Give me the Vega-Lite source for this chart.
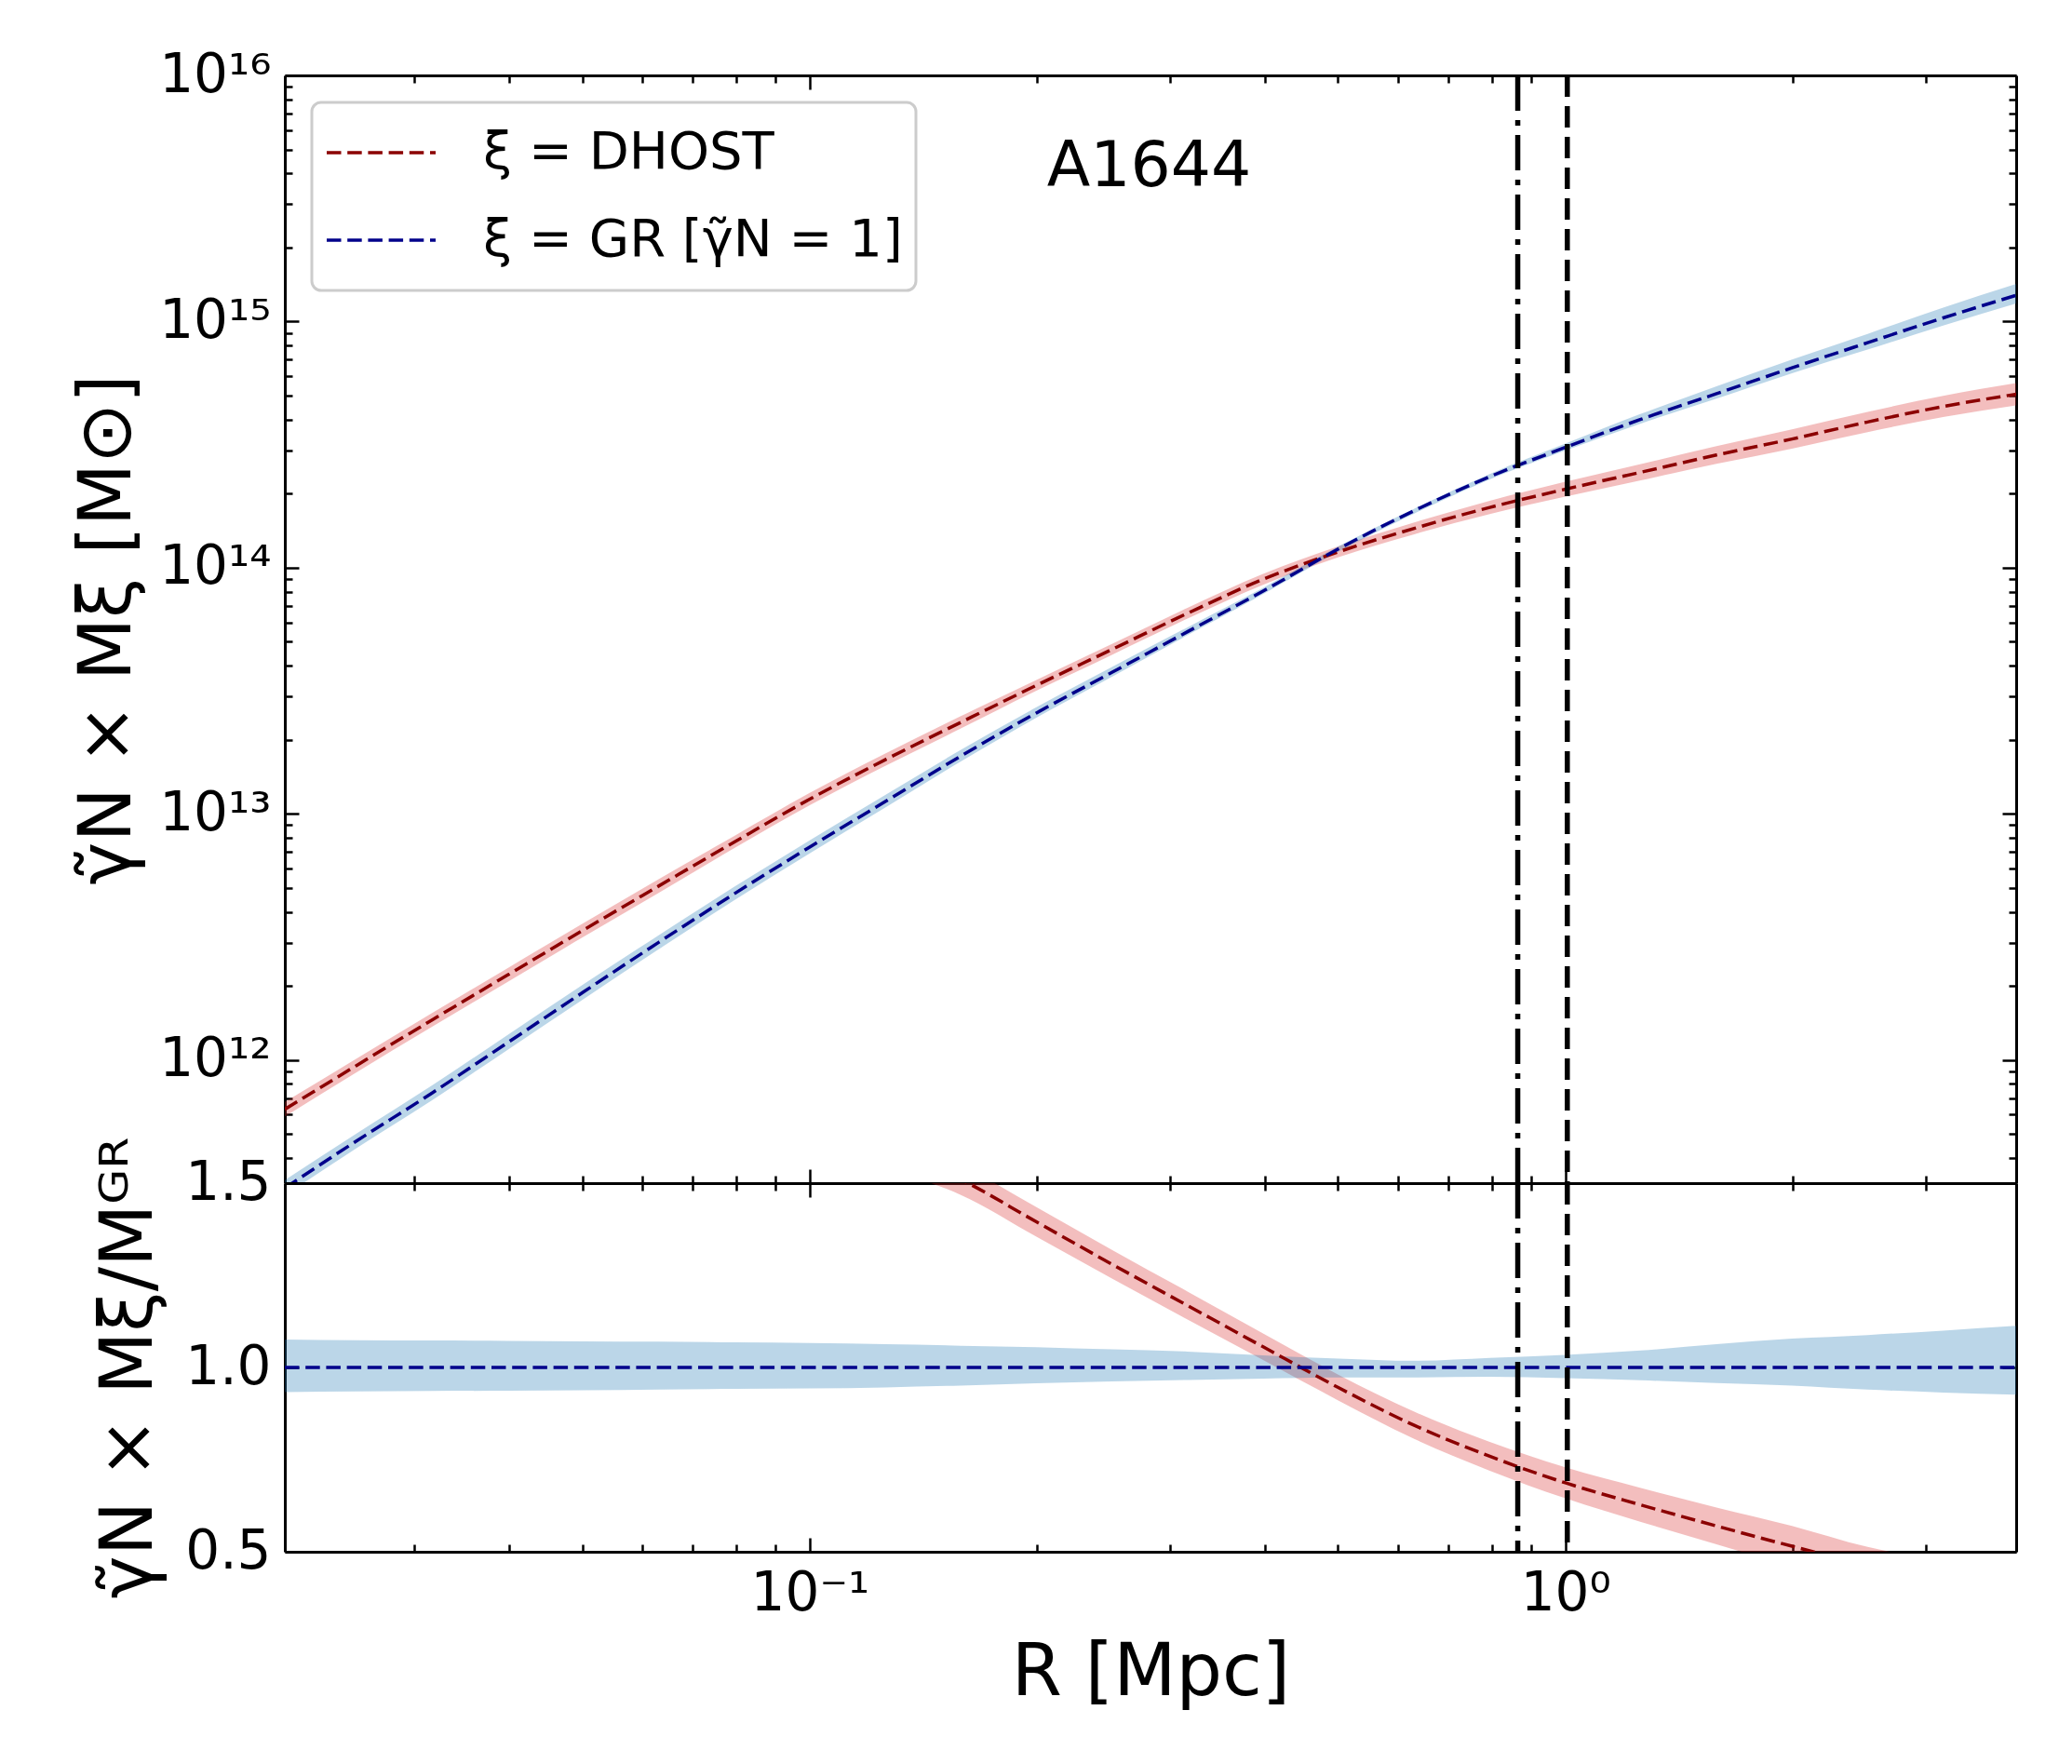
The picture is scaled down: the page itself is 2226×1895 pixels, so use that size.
{
  "$schema": "https://vega.github.io/schema/vega-lite/v6.json",
  "background": "white",
  "padding": {"left": 77, "top": 52, "right": 40, "bottom": 40},
  "config": {
    "font": "DejaVu Sans",
    "view": {"stroke": null},
    "axis": {
      "grid": false,
      "domainColor": "black",
      "domainWidth": 3,
      "tickColor": "black",
      "tickWidth": 2.5,
      "labelFont": "DejaVu Sans",
      "labelFontSize": 58,
      "labelColor": "black",
      "labelOverlap": false,
      "labelFlush": false,
      "labelBound": false,
      "titleFont": "DejaVu Sans",
      "titleFontSize": 78,
      "titleFontWeight": "normal",
      "titleColor": "black"
    },
    "legend": {"strokeWidth": 3}
  },
  "datasets": {
    "profiles": [
      {"model": "ξ = DHOST", "R": 0.0202, "M": 6.31e11, "M_lo": 5.89e11, "M_hi": 6.76e11, "ratio": 2.09, "ratio_lo": 1.99, "ratio_hi": 2.19},
      {"model": "ξ = DHOST", "R": 0.0251, "M": 9.48e11, "M_lo": 8.89e11, "M_hi": 1.012e12, "ratio": 2.05, "ratio_lo": 1.95, "ratio_hi": 2.15},
      {"model": "ξ = DHOST", "R": 0.0316, "M": 1.452e12, "M_lo": 1.361e12, "M_hi": 1.549e12, "ratio": 2.0, "ratio_lo": 1.9, "ratio_hi": 2.1},
      {"model": "ξ = DHOST", "R": 0.0398, "M": 2.213e12, "M_lo": 2.075e12, "M_hi": 2.36e12, "ratio": 1.94, "ratio_lo": 1.84, "ratio_hi": 2.04},
      {"model": "ξ = DHOST", "R": 0.0501, "M": 3.365e12, "M_lo": 3.155e12, "M_hi": 3.59e12, "ratio": 1.88, "ratio_lo": 1.79, "ratio_hi": 1.97},
      {"model": "ξ = DHOST", "R": 0.0631, "M": 5.09e12, "M_lo": 4.775e12, "M_hi": 5.43e12, "ratio": 1.82, "ratio_lo": 1.73, "ratio_hi": 1.91},
      {"model": "ξ = DHOST", "R": 0.0794, "M": 7.674e12, "M_lo": 7.244e12, "M_hi": 8.128e12, "ratio": 1.75, "ratio_lo": 1.67, "ratio_hi": 1.84},
      {"model": "ξ = DHOST", "R": 0.1, "M": 1.148e13, "M_lo": 1.084e13, "M_hi": 1.216e13, "ratio": 1.68, "ratio_lo": 1.6, "ratio_hi": 1.76},
      {"model": "ξ = DHOST", "R": 0.1259, "M": 1.66e13, "M_lo": 1.567e13, "M_hi": 1.758e13, "ratio": 1.6, "ratio_lo": 1.54, "ratio_hi": 1.66},
      {"model": "ξ = DHOST", "R": 0.1585, "M": 2.355e13, "M_lo": 2.223e13, "M_hi": 2.495e13, "ratio": 1.51, "ratio_lo": 1.468, "ratio_hi": 1.552},
      {"model": "ξ = DHOST", "R": 0.1995, "M": 3.327e13, "M_lo": 3.162e13, "M_hi": 3.5e13, "ratio": 1.395, "ratio_lo": 1.355, "ratio_hi": 1.435},
      {"model": "ξ = DHOST", "R": 0.2512, "M": 4.656e13, "M_lo": 4.426e13, "M_hi": 4.898e13, "ratio": 1.28, "ratio_lo": 1.241, "ratio_hi": 1.319},
      {"model": "ξ = DHOST", "R": 0.3162, "M": 6.53e13, "M_lo": 6.209e13, "M_hi": 6.871e13, "ratio": 1.168, "ratio_lo": 1.13, "ratio_hi": 1.206},
      {"model": "ξ = DHOST", "R": 0.3981, "M": 8.974e13, "M_lo": 8.531e13, "M_hi": 9.44e13, "ratio": 1.056, "ratio_lo": 1.02, "ratio_hi": 1.092},
      {"model": "ξ = DHOST", "R": 0.5012, "M": 1.161e14, "M_lo": 1.104e14, "M_hi": 1.222e14, "ratio": 0.945, "ratio_lo": 0.91, "ratio_hi": 0.98},
      {"model": "ξ = DHOST", "R": 0.631, "M": 1.445e14, "M_lo": 1.368e14, "M_hi": 1.528e14, "ratio": 0.843, "ratio_lo": 0.806, "ratio_hi": 0.88},
      {"model": "ξ = DHOST", "R": 0.7943, "M": 1.758e14, "M_lo": 1.652e14, "M_hi": 1.871e14, "ratio": 0.759, "ratio_lo": 0.72, "ratio_hi": 0.798},
      {"model": "ξ = DHOST", "R": 1.0, "M": 2.084e14, "M_lo": 1.945e14, "M_hi": 2.234e14, "ratio": 0.687, "ratio_lo": 0.645, "ratio_hi": 0.729},
      {"model": "ξ = DHOST", "R": 1.259, "M": 2.443e14, "M_lo": 2.265e14, "M_hi": 2.636e14, "ratio": 0.627, "ratio_lo": 0.581, "ratio_hi": 0.673},
      {"model": "ξ = DHOST", "R": 1.585, "M": 2.871e14, "M_lo": 2.642e14, "M_hi": 3.119e14, "ratio": 0.57, "ratio_lo": 0.52, "ratio_hi": 0.62},
      {"model": "ξ = DHOST", "R": 1.995, "M": 3.334e14, "M_lo": 3.048e14, "M_hi": 3.648e14, "ratio": 0.515, "ratio_lo": 0.46, "ratio_hi": 0.57},
      {"model": "ξ = DHOST", "R": 2.512, "M": 3.908e14, "M_lo": 3.556e14, "M_hi": 4.295e14, "ratio": 0.463, "ratio_lo": 0.403, "ratio_hi": 0.513},
      {"model": "ξ = DHOST", "R": 3.162, "M": 4.519e14, "M_lo": 4.093e14, "M_hi": 4.989e14, "ratio": 0.415, "ratio_lo": 0.35, "ratio_hi": 0.475},
      {"model": "ξ = DHOST", "R": 3.954, "M": 5.07e14, "M_lo": 4.571e14, "M_hi": 5.623e14, "ratio": 0.372, "ratio_lo": 0.302, "ratio_hi": 0.438},
      {"model": "ξ = GR [γ̃N = 1]", "R": 0.0202, "M": 3.02e11, "M_lo": 2.818e11, "M_hi": 3.251e11, "ratio": 1, "ratio_lo": 0.933, "ratio_hi": 1.076},
      {"model": "ξ = GR [γ̃N = 1]", "R": 0.0251, "M": 4.68e11, "M_lo": 4.375e11, "M_hi": 5.02e11, "ratio": 1, "ratio_lo": 0.935, "ratio_hi": 1.074},
      {"model": "ξ = GR [γ̃N = 1]", "R": 0.0316, "M": 7.33e11, "M_lo": 6.855e11, "M_hi": 7.87e11, "ratio": 1, "ratio_lo": 0.936, "ratio_hi": 1.073},
      {"model": "ξ = GR [γ̃N = 1]", "R": 0.0398, "M": 1.175e12, "M_lo": 1.099e12, "M_hi": 1.262e12, "ratio": 1, "ratio_lo": 0.937, "ratio_hi": 1.072},
      {"model": "ξ = GR [γ̃N = 1]", "R": 0.0501, "M": 1.884e12, "M_lo": 1.762e12, "M_hi": 2.023e12, "ratio": 1, "ratio_lo": 0.938, "ratio_hi": 1.071},
      {"model": "ξ = GR [γ̃N = 1]", "R": 0.0631, "M": 3.006e12, "M_lo": 2.818e12, "M_hi": 3.214e12, "ratio": 1, "ratio_lo": 0.94, "ratio_hi": 1.07},
      {"model": "ξ = GR [γ̃N = 1]", "R": 0.0794, "M": 4.73e12, "M_lo": 4.457e12, "M_hi": 5.047e12, "ratio": 1, "ratio_lo": 0.942, "ratio_hi": 1.068},
      {"model": "ξ = GR [γ̃N = 1]", "R": 0.1, "M": 7.33e12, "M_lo": 6.918e12, "M_hi": 7.816e12, "ratio": 1, "ratio_lo": 0.943, "ratio_hi": 1.066},
      {"model": "ξ = GR [γ̃N = 1]", "R": 0.1259, "M": 1.122e13, "M_lo": 1.062e13, "M_hi": 1.194e13, "ratio": 1, "ratio_lo": 0.946, "ratio_hi": 1.063},
      {"model": "ξ = GR [γ̃N = 1]", "R": 0.1585, "M": 1.718e13, "M_lo": 1.633e13, "M_hi": 1.82e13, "ratio": 1, "ratio_lo": 0.951, "ratio_hi": 1.059},
      {"model": "ξ = GR [γ̃N = 1]", "R": 0.1995, "M": 2.57e13, "M_lo": 2.46e13, "M_hi": 2.71e13, "ratio": 1, "ratio_lo": 0.957, "ratio_hi": 1.055},
      {"model": "ξ = GR [γ̃N = 1]", "R": 0.2512, "M": 3.758e13, "M_lo": 3.606e13, "M_hi": 3.954e13, "ratio": 1, "ratio_lo": 0.962, "ratio_hi": 1.049},
      {"model": "ξ = GR [γ̃N = 1]", "R": 0.3162, "M": 5.495e13, "M_lo": 5.321e13, "M_hi": 5.728e13, "ratio": 1, "ratio_lo": 0.966, "ratio_hi": 1.043},
      {"model": "ξ = GR [γ̃N = 1]", "R": 0.3981, "M": 8.035e13, "M_lo": 7.816e13, "M_hi": 8.279e13, "ratio": 1, "ratio_lo": 0.97, "ratio_hi": 1.033},
      {"model": "ξ = GR [γ̃N = 1]", "R": 0.5012, "M": 1.194e14, "M_lo": 1.164e14, "M_hi": 1.222e14, "ratio": 1, "ratio_lo": 0.973, "ratio_hi": 1.024},
      {"model": "ξ = GR [γ̃N = 1]", "R": 0.631, "M": 1.706e14, "M_lo": 1.66e14, "M_hi": 1.738e14, "ratio": 1, "ratio_lo": 0.973, "ratio_hi": 1.018},
      {"model": "ξ = GR [γ̃N = 1]", "R": 0.7943, "M": 2.344e14, "M_lo": 2.286e14, "M_hi": 2.404e14, "ratio": 1, "ratio_lo": 0.975, "ratio_hi": 1.026},
      {"model": "ξ = GR [γ̃N = 1]", "R": 1.0, "M": 3.083e14, "M_lo": 2.992e14, "M_hi": 3.192e14, "ratio": 1, "ratio_lo": 0.971, "ratio_hi": 1.034},
      {"model": "ξ = GR [γ̃N = 1]", "R": 1.259, "M": 4.009e14, "M_lo": 3.855e14, "M_hi": 4.217e14, "ratio": 1, "ratio_lo": 0.965, "ratio_hi": 1.046},
      {"model": "ξ = GR [γ̃N = 1]", "R": 1.585, "M": 5.093e14, "M_lo": 4.864e14, "M_hi": 5.458e14, "ratio": 1, "ratio_lo": 0.958, "ratio_hi": 1.063},
      {"model": "ξ = GR [γ̃N = 1]", "R": 1.995, "M": 6.486e14, "M_lo": 6.166e14, "M_hi": 7.015e14, "ratio": 1, "ratio_lo": 0.951, "ratio_hi": 1.078},
      {"model": "ξ = GR [γ̃N = 1]", "R": 2.512, "M": 8.204e14, "M_lo": 7.691e14, "M_hi": 8.913e14, "ratio": 1, "ratio_lo": 0.94, "ratio_hi": 1.088},
      {"model": "ξ = GR [γ̃N = 1]", "R": 3.162, "M": 1.035e15, "M_lo": 9.638e14, "M_hi": 1.14e15, "ratio": 1, "ratio_lo": 0.932, "ratio_hi": 1.1},
      {"model": "ξ = GR [γ̃N = 1]", "R": 3.954, "M": 1.279e15, "M_lo": 1.186e15, "M_hi": 1.422e15, "ratio": 1, "ratio_lo": 0.926, "ratio_hi": 1.113}
    ],
    "radii": [
      {"name": "r_dashdot", "R": 0.865},
      {"name": "r_dashed", "R": 1.006}
    ],
    "annotations": [
      {"label": "A1644", "R": 0.2813, "M": 3.56e15}
    ]
  },
  "spacing": 0,
  "bounds": "flush",
  "resolve": {"scale": {"color": "independent"}, "legend": {"color": "independent"}},
  "vconcat": [
    {
      "width": 1860,
      "height": 1190,
      "data": {"name": "profiles"},
      "resolve": {"axis": {"x": "independent", "y": "independent"}},
      "layer": [
        {
          "transform": [{"filter": "datum.model === 'ξ = DHOST'"}],
          "mark": {"type": "area", "color": "#d62728", "opacity": 0.3, "clip": true, "interpolate": "monotone"},
          "encoding": {
            "x": {"field": "R", "type": "quantitative", "scale": {"type": "log", "domain": [0.0202, 3.95], "nice": false},
              "axis": {"orient": "bottom", "values": [0.1, 1], "tickSize": -15, "labels": false, "title": null}},
            "y": {"field": "M_lo", "type": "quantitative", "scale": {"type": "log", "domain": [3.162e11, 1e16], "nice": false},
              "axis": {"orient": "left", "values": [1e12, 1e13, 1e14, 1e15, 1e16], "tickSize": -15, "labelPadding": 30,
                "labelExpr": "datum.value == 1e12 ? '10¹²' : datum.value == 1e13 ? '10¹³' : datum.value == 1e14 ? '10¹⁴' : datum.value == 1e15 ? '10¹⁵' : '10¹⁶'",
                "title": "γ̃N × Mξ [M⊙]", "titleAngle": 270, "titleBaseline": "alphabetic", "titleAlign": "center", "titleX": -167, "titleY": 595}},
            "y2": {"field": "M_hi"}
          }
        },
        {
          "transform": [{"filter": "datum.model !== 'ξ = DHOST'"}],
          "mark": {"type": "area", "color": "#1f77b4", "opacity": 0.3, "clip": true, "interpolate": "monotone"},
          "encoding": {
            "x": {"field": "R", "type": "quantitative", "scale": {"type": "log", "domain": [0.0202, 3.95], "nice": false},
              "axis": {"orient": "bottom", "values": [0.03, 0.04, 0.05, 0.06, 0.07, 0.08, 0.09, 0.2, 0.3, 0.4, 0.5, 0.6, 0.7, 0.8, 0.9, 2, 3], "tickSize": -8, "labels": false, "domain": false, "title": null}},
            "y": {"field": "M_lo", "type": "quantitative", "scale": {"type": "log", "domain": [3.162e11, 1e16], "nice": false},
              "axis": {"orient": "left", "values": [4e11, 5e11, 6e11, 7e11, 8e11, 9e11, 2e12, 3e12, 4e12, 5e12, 6e12, 7e12, 8e12, 9e12, 2e13, 3e13, 4e13, 5e13, 6e13, 7e13, 8e13, 9e13, 2e14, 3e14, 4e14, 5e14, 6e14, 7e14, 8e14, 9e14, 2e15, 3e15, 4e15, 5e15, 6e15, 7e15, 8e15, 9e15], "tickSize": -8, "labels": false, "domain": false, "title": null}},
            "y2": {"field": "M_hi"}
          }
        },
        {
          "mark": {"type": "line", "strokeWidth": 3.5, "strokeDash": [15.5, 6.7], "clip": true, "interpolate": "monotone"},
          "encoding": {
            "x": {"field": "R", "type": "quantitative", "scale": {"type": "log", "domain": [0.0202, 3.95], "nice": false},
              "axis": {"orient": "top", "values": [0.1, 1], "tickSize": -15, "labels": false, "title": null}},
            "y": {"field": "M", "type": "quantitative", "scale": {"type": "log", "domain": [3.162e11, 1e16], "nice": false},
              "axis": {"orient": "right", "values": [1e12, 1e13, 1e14, 1e15, 1e16], "tickSize": -15, "labels": false, "title": null}},
            "color": {"field": "model", "type": "nominal",
              "scale": {"domain": ["ξ = DHOST", "ξ = GR [γ̃N = 1]"], "range": ["#8b0000", "#00008b"]},
              "legend": {"orient": "top-left", "offset": 29, "title": null, "symbolType": "stroke", "symbolSize": 13689,
                "symbolStrokeWidth": 3.5, "symbolDash": [15.5, 6.7], "labelFont": "DejaVu Sans", "labelFontSize": 56, "labelColor": "black",
                "labelLimit": 1000, "labelOffset": 49, "clipHeight": 80, "rowPadding": 14, "padding": 14,
                "strokeColor": "#cccccc", "fillColor": "white", "cornerRadius": 10}}
          }
        },
        {
          "data": {"name": "annotations"},
          "mark": {"type": "text", "fontSize": 68, "font": "DejaVu Sans", "align": "center", "baseline": "alphabetic", "color": "black"},
          "encoding": {
            "x": {"field": "R", "type": "quantitative", "scale": {"type": "log", "domain": [0.0202, 3.95], "nice": false},
              "axis": {"orient": "top", "values": [0.03, 0.04, 0.05, 0.06, 0.07, 0.08, 0.09, 0.2, 0.3, 0.4, 0.5, 0.6, 0.7, 0.8, 0.9, 2, 3], "tickSize": -8, "labels": false, "domain": false, "title": null}},
            "y": {"field": "M", "type": "quantitative", "scale": {"type": "log", "domain": [3.162e11, 1e16], "nice": false},
              "axis": {"orient": "right", "values": [4e11, 5e11, 6e11, 7e11, 8e11, 9e11, 2e12, 3e12, 4e12, 5e12, 6e12, 7e12, 8e12, 9e12, 2e13, 3e13, 4e13, 5e13, 6e13, 7e13, 8e13, 9e13, 2e14, 3e14, 4e14, 5e14, 6e14, 7e14, 8e14, 9e14, 2e15, 3e15, 4e15, 5e15, 6e15, 7e15, 8e15, 9e15], "tickSize": -8, "labels": false, "domain": false, "title": null}},
            "text": {"field": "label"}
          }
        },
        {
          "data": {"name": "radii"},
          "transform": [{"filter": "datum.name === 'r_dashdot'"}],
          "mark": {"type": "rule", "color": "black", "strokeWidth": 5.5, "strokeDash": [38, 10, 6, 10]},
          "encoding": {
            "x": {"field": "R", "type": "quantitative", "scale": {"type": "log", "domain": [0.0202, 3.95], "nice": false}, "axis": null}
          }
        },
        {
          "data": {"name": "radii"},
          "transform": [{"filter": "datum.name === 'r_dashed'"}],
          "mark": {"type": "rule", "color": "black", "strokeWidth": 5.5, "strokeDash": [23, 10]},
          "encoding": {
            "x": {"field": "R", "type": "quantitative", "scale": {"type": "log", "domain": [0.0202, 3.95], "nice": false}, "axis": null}
          }
        }
      ]
    },
    {
      "width": 1860,
      "height": 396,
      "data": {"name": "profiles"},
      "resolve": {"axis": {"x": "independent", "y": "independent"}},
      "layer": [
        {
          "transform": [{"filter": "datum.model === 'ξ = DHOST'"}],
          "mark": {"type": "area", "color": "#d62728", "opacity": 0.3, "clip": true, "interpolate": "monotone"},
          "encoding": {
            "x": {"field": "R", "type": "quantitative", "scale": {"type": "log", "domain": [0.0202, 3.95], "nice": false},
              "axis": {"orient": "bottom", "values": [0.1, 1], "tickSize": -15, "labelPadding": 31,
                "labelExpr": "datum.value == 1 ? '10⁰' : '10⁻¹'",
                "title": "R [Mpc]", "titleBaseline": "alphabetic", "titleAlign": "center", "titleX": 930, "titleY": 153}},
            "y": {"field": "ratio_lo", "type": "quantitative", "scale": {"domain": [0.5, 1.5], "nice": false, "zero": false},
              "axis": {"orient": "left", "values": [0.5, 1.0, 1.5], "format": ".1f", "tickSize": -15, "labelPadding": 30,
                "title": "γ̃N × Mξ/Mᴳᴿ", "titleAngle": 270, "titleBaseline": "alphabetic", "titleAlign": "center", "titleX": -144, "titleY": 198}},
            "y2": {"field": "ratio_hi"}
          }
        },
        {
          "transform": [{"filter": "datum.model !== 'ξ = DHOST'"}],
          "mark": {"type": "area", "color": "#1f77b4", "opacity": 0.3, "clip": true, "interpolate": "monotone"},
          "encoding": {
            "x": {"field": "R", "type": "quantitative", "scale": {"type": "log", "domain": [0.0202, 3.95], "nice": false},
              "axis": {"orient": "bottom", "values": [0.03, 0.04, 0.05, 0.06, 0.07, 0.08, 0.09, 0.2, 0.3, 0.4, 0.5, 0.6, 0.7, 0.8, 0.9, 2, 3], "tickSize": -8, "labels": false, "domain": false, "title": null}},
            "y": {"field": "ratio_lo", "type": "quantitative", "scale": {"domain": [0.5, 1.5], "nice": false, "zero": false},
              "axis": {"orient": "right", "values": [0.5, 1.0, 1.5], "tickSize": -15, "labels": false, "title": null}},
            "y2": {"field": "ratio_hi"}
          }
        },
        {
          "transform": [{"filter": "datum.model === 'ξ = DHOST'"}],
          "mark": {"type": "line", "color": "#8b0000", "strokeWidth": 3.5, "strokeDash": [15.5, 6.7], "clip": true, "interpolate": "monotone"},
          "encoding": {
            "x": {"field": "R", "type": "quantitative", "scale": {"type": "log", "domain": [0.0202, 3.95], "nice": false},
              "axis": {"orient": "top", "values": [0.1, 1], "tickSize": -15, "labels": false, "title": null}},
            "y": {"field": "ratio", "type": "quantitative", "scale": {"domain": [0.5, 1.5], "nice": false, "zero": false}, "axis": null}
          }
        },
        {
          "transform": [{"filter": "datum.model !== 'ξ = DHOST'"}],
          "mark": {"type": "line", "color": "#00008b", "strokeWidth": 3.5, "strokeDash": [15.5, 6.7], "clip": true},
          "encoding": {
            "x": {"field": "R", "type": "quantitative", "scale": {"type": "log", "domain": [0.0202, 3.95], "nice": false},
              "axis": {"orient": "top", "values": [0.03, 0.04, 0.05, 0.06, 0.07, 0.08, 0.09, 0.2, 0.3, 0.4, 0.5, 0.6, 0.7, 0.8, 0.9, 2, 3], "tickSize": -8, "labels": false, "domain": false, "title": null}},
            "y": {"field": "ratio", "type": "quantitative", "scale": {"domain": [0.5, 1.5], "nice": false, "zero": false}, "axis": null}
          }
        },
        {
          "data": {"name": "radii"},
          "transform": [{"filter": "datum.name === 'r_dashdot'"}],
          "mark": {"type": "rule", "color": "black", "strokeWidth": 5.5, "strokeDash": [38, 10, 6, 10]},
          "encoding": {
            "x": {"field": "R", "type": "quantitative", "scale": {"type": "log", "domain": [0.0202, 3.95], "nice": false}, "axis": null}
          }
        },
        {
          "data": {"name": "radii"},
          "transform": [{"filter": "datum.name === 'r_dashed'"}],
          "mark": {"type": "rule", "color": "black", "strokeWidth": 5.5, "strokeDash": [23, 10]},
          "encoding": {
            "x": {"field": "R", "type": "quantitative", "scale": {"type": "log", "domain": [0.0202, 3.95], "nice": false}, "axis": null}
          }
        }
      ]
    }
  ]
}
